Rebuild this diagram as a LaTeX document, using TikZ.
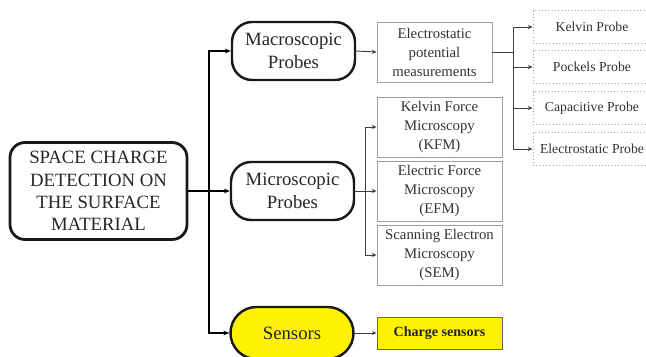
\documentclass[tikz,border=0pt]{standalone}
\usepackage{fontspec}
\setmainfont{Liberation Serif}
\usetikzlibrary{arrows.meta}

\begin{document}
\begin{tikzpicture}[>=Stealth, x=0.03cm, y=-0.03cm,
    bigfont/.style={font=\rmfamily\fontsize{16}{19}\selectfont},
    smallfont/.style={font=\rmfamily\fontsize{12.6}{16.2}\selectfont},
    mainbox/.style={draw=black!90, line width=2.4pt, rounded corners=0.45cm, align=center, bigfont,
        text=black!85, minimum width=5.31cm, minimum height=2.91cm, inner sep=0pt},
    probebox/.style={draw=black!90, line width=2.1pt, rounded corners=0.6cm, align=center, bigfont,
        text=black!85, minimum width=3.69cm, minimum height=1.74cm, inner sep=0pt},
    methodbox/.style={draw=gray!75, line width=0.8pt, align=center, smallfont, text=black!80,
        minimum width=3.75cm, minimum height=1.8cm, inner sep=0pt},
    dotbox/.style={draw=gray!70, dotted, line width=0.8pt, text=black!80,
        font=\rmfamily\fontsize{11.7}{14}\selectfont, minimum width=3.54cm, minimum height=0.99cm, inner sep=0pt},
    trunk/.style={line width=1.4pt, -{Stealth[length=5pt, width=4pt]}},
    twig/.style={draw=black!75, line width=0.8pt, -{Stealth[length=4pt, width=3.5pt]}}]
    \useasboundingbox (0,0) rectangle (646,356);
    % left part
    \node[mainbox] (main) at (98.5,191) {SPACE CHARGE\\DETECTION ON\\THE SURFACE\\MATERIAL};
    \node[probebox] (macro) at (293.5,51) {Macroscopic\\Probes};
    \node[probebox] (micro) at (292.5,191) {Microscopic\\Probes};
    \node[probebox, fill=yellow, rounded corners=0.78cm, minimum height=1.56cm] (sensors) at (292,333) {Sensors};
    % methods
    \node[methodbox, minimum width=3.45cm] (elec) at (434.5,52) {Electrostatic\\potential\\measurements};
    \node[methodbox] (kfm) at (439.5,127) {Kelvin Force\\Microscopy\\(KFM)};
    \node[methodbox] (efm) at (439.5,191) {Electric Force\\Microscopy\\(EFM)};
    \node[methodbox] (sem) at (439.5,255) {Scanning Electron\\Microscopy\\(SEM)};
    \node[methodbox, fill=yellow, draw=black!60, minimum height=0.96cm, text=black!85,
        font=\rmfamily\fontsize{12}{14}\selectfont\bfseries] (charge) at (439.5,333) {Charge sensors};
    % probes
    \node[dotbox] (kelvin) at (592,27) {Kelvin Probe};
    \node[dotbox] (pockels) at (592,67) {Pockels Probe};
    \node[dotbox] (capac) at (592,108) {Capacitive Probe};
    \node[dotbox] (estat) at (592,149) {Electrostatic Probe};
    % connectors
    \coordinate (tr) at (209,191);
    \coordinate (mb) at (513,52);
    \coordinate (sb) at (365,191);
    \draw[line width=1.4pt] (main.east) -- (tr);
    \draw[trunk] (tr) |- (macro.west);
    \draw[trunk] (tr) -- (micro.west);
    \draw[trunk] (tr) |- (sensors.west);
    \draw[twig] (macro.east) -- (elec.west);
    \draw[twig] (sensors.east) -- (charge.west);
    \draw[twig, -] (elec.east) -- (mb);
    \foreach \p in {kelvin, pockels, capac, estat}
        \draw[twig] (mb) |- (\p.west);
    \draw[twig, -] (micro.east) -- (sb);
    \foreach \p in {kfm, efm, sem}
        \draw[twig] (sb) |- (\p.west);
\end{tikzpicture}
\end{document}
